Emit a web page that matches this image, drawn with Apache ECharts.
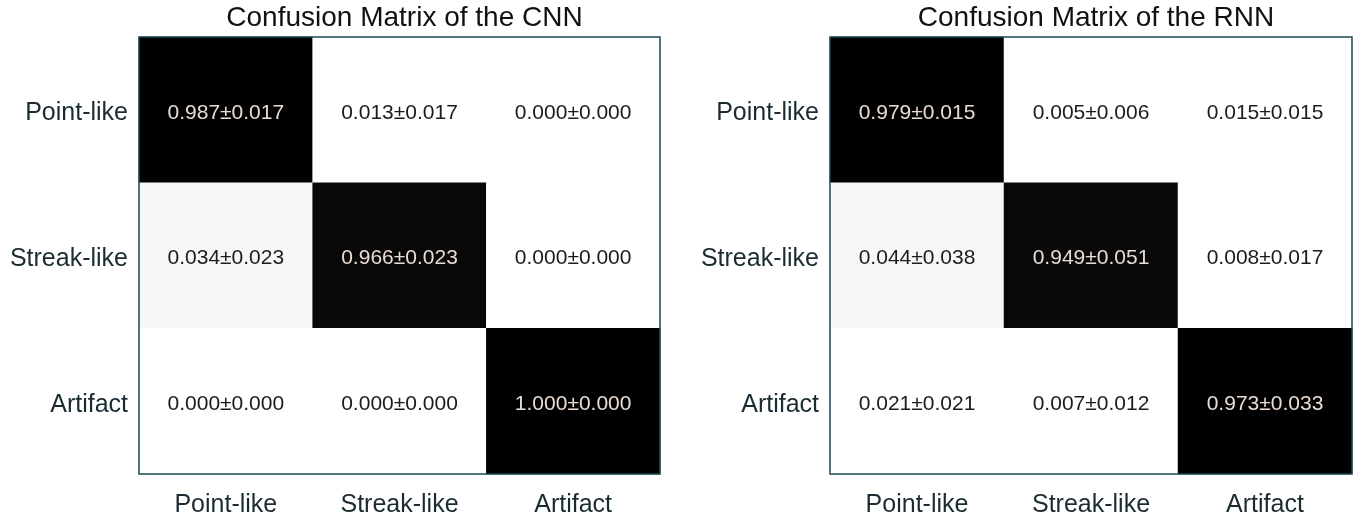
<!DOCTYPE html>
<html>
<head>
<meta charset="utf-8">
<script src="https://cdn.jsdelivr.net/npm/echarts@6/dist/echarts.min.js"></script>
<style>
  html, body { margin: 0; padding: 0; background: #ffffff; }
  #chart { width: 1363px; height: 518px; }
</style>
</head>
<body>
<div id="chart"></div>
<script>
// Class names (rows = true class, columns = predicted class)
const classes = ['Point-like', 'Streak-like', 'Artifact'];

// Mean of the normalised confusion matrix, row by row
const cnnMean = [
  [0.987, 0.013, 0.000],
  [0.034, 0.966, 0.000],
  [0.000, 0.000, 1.000]
];
const cnnStd = [
  [0.017, 0.017, 0.000],
  [0.023, 0.023, 0.000],
  [0.000, 0.000, 0.000]
];

const rnnMean = [
  [0.979, 0.005, 0.015],
  [0.044, 0.949, 0.008],
  [0.021, 0.007, 0.973]
];
const rnnStd = [
  [0.015, 0.006, 0.015],
  [0.038, 0.051, 0.017],
  [0.021, 0.012, 0.033]
];

const titles = ['Confusion Matrix of the CNN', 'Confusion Matrix of the RNN'];

function cells(mean, std) {
  const out = [];
  for (let r = 0; r < mean.length; r++) {
    for (let c = 0; c < mean[r].length; c++) {
      out.push({
        value: [c, r, mean[r][c], std[r][c]],
        label: { color: mean[r][c] > 0.5 ? '#eadbd2' : '#1c1c1c' }
      });
    }
  }
  return out;
}

const FONT = 'Liberation Sans, Arial, sans-serif';
const grids = [
  { left: 139, top: 37, width: 521, height: 437 },
  { left: 830, top: 37, width: 522, height: 437 }
];

const option = {
  backgroundColor: '#ffffff',
  animation: false,
  title: grids.map((g, i) => ({
    text: titles[i],
    left: g.left + g.width / 2,
    textAlign: 'center',
    top: -1,
    textStyle: { fontFamily: FONT, fontSize: 28, fontWeight: 'normal', color: '#111111' }
  })),
  grid: grids.map(g => Object.assign({
    show: true, borderColor: '#1e4a55', borderWidth: 1.5, backgroundColor: 'transparent', z: 5
  }, g)),
  xAxis: grids.map((g, i) => ({
    type: 'category', gridIndex: i, data: classes,
    axisLine: { show: false }, axisTick: { show: false }, splitLine: { show: false },
    axisLabel: { margin: 19, fontFamily: FONT, fontSize: 25, color: '#1a2b32' }
  })),
  yAxis: grids.map((g, i) => ({
    type: 'category', gridIndex: i, data: classes, inverse: true,
    axisLine: { show: false }, axisTick: { show: false }, splitLine: { show: false },
    axisLabel: {
      margin: 11,
      formatter: v => '{c|' + v + '}',
      rich: { c: { fontFamily: FONT, fontSize: 25, color: '#1a2b32', padding: [7, 0, 0, 0] } }
    }
  })),
  // 32-level reversed grey colour map
  visualMap: {
    type: 'piecewise', show: false, min: 0, max: 1, splitNumber: 32,
    dimension: 2, seriesIndex: [0, 1],
    inRange: { color: ['#ffffff', '#000000'] }
  },
  series: [[cnnMean, cnnStd], [rnnMean, rnnStd]].map((d, i) => ({
    type: 'heatmap',
    xAxisIndex: i, yAxisIndex: i,
    data: cells(d[0], d[1]),
    itemStyle: { borderWidth: 0 },
    label: {
      show: true, fontFamily: FONT, fontSize: 21, offset: [0, 3],
      formatter: p => p.value[2].toFixed(3) + '\u00b1' + p.value[3].toFixed(3)
    },
    emphasis: { disabled: true }
  }))
};

const chart = echarts.init(document.getElementById('chart'), null, { renderer: 'canvas' });
chart.setOption(option);
</script>
</body>
</html>
